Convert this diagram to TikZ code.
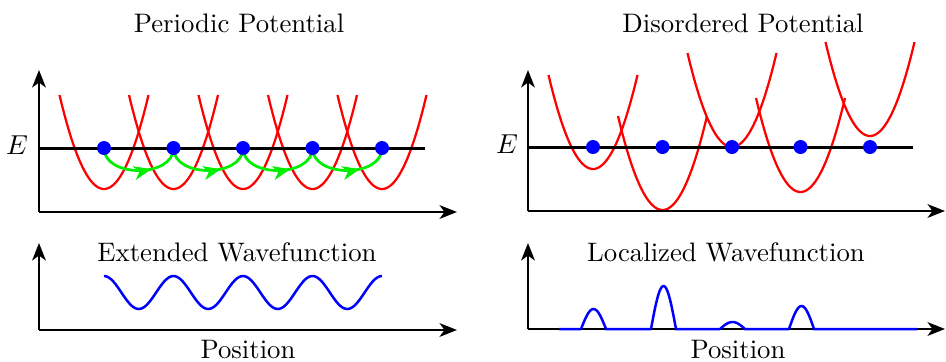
\documentclass[tikz,border=0pt]{standalone}
\usepackage{amsmath}
\usepackage{xcolor}
\usepackage{tikz}
\usetikzlibrary{arrows.meta,decorations.markings}
\definecolor{cPot}{HTML}{FF0000}
\definecolor{cHop}{HTML}{00EE00}
\definecolor{cWave}{HTML}{0000FF}
\tikzset{
  axis/.style  = {-{Stealth[length=7pt, width=5.5pt, inset=2pt]}, line width=0.8pt},
  eline/.style = {line width=1.2pt},
  pot/.style   = {draw=cPot, line width=0.9pt},
  wave/.style  = {draw=cWave, line width=1pt},
  hop/.style   = {draw=cHop, line width=1.1pt,
                  postaction={decorate},
                  decoration={markings, mark=at position 0.64 with
                    {\arrow[cHop]{Stealth[length=7pt, width=5.5pt, inset=2pt]}}}},
  dot/.style   = {circle, fill=cWave, inner sep=0pt, minimum size=5.6pt},
  ttl/.style   = {font=\fontsize{10.7}{13}\selectfont, inner sep=0pt},
}

\begin{document}
\begin{tikzpicture}[x=0.4pt, y=-0.4pt]
  \useasboundingbox (0,0) rectangle (946,361);

  % periodic potential
  \node[ttl] (ttlP) at (239,23) {Periodic Potential};
  \foreach \c in {104,173.5,243,312.5,382}
    \draw[pot] plot[domain=-44.5:44.5, samples=40] ({\c+\x}, {189-94*(\x/44.5)^2});
  \draw[eline] (39,148) -- (425,148);
  \node[ttl] (eP) at (17,145) {$E$};
  \foreach \c [count=\i] in {104,173.5,243,312.5}
    \draw[hop] (\c,148) .. controls (\c,178) and (\c+69.5,178) .. (\c+69.5,148);
  \foreach \c [count=\i] in {104,173.5,243,312.5,382}
    \node[dot] (p\i) at (\c,148) {};
  \draw[axis] (39,212) -- (39,70);
  \draw[axis] (39,212) -- (457,212);

  % extended wavefunction
  \node[ttl] (ttlX) at (237,252) {Extended Wavefunction};
  \draw[wave] plot[domain=0:278, samples=120] ({104+\x}, {292.5-16.5*cos(\x/69.5*360)});
  \draw[axis] (39,330) -- (39,243);
  \draw[axis] (39,330) -- (457,330);
  \node[ttl] (posL) at (248,350) {Position};

  % disordered potential
  \node[ttl] (ttlD) at (743,23) {Disordered Potential};
  \foreach \c/\m in {593/169, 662.5/210, 732/147, 800.5/192, 870/136}
    \draw[pot] plot[domain=-44.5:44.5, samples=40] ({\c+\x}, {\m-94*(\x/44.5)^2});
  \draw[eline] (528,147) -- (913,147);
  \node[ttl] (eD) at (507,144) {$E$};
  \foreach \c [count=\i] in {593,662.5,732,800.5,870}
    \node[dot] (d\i) at (\c,147) {};
  \draw[axis] (528,211) -- (528,70);
  \draw[axis] (528,211) -- (945,211);

  % localized wavefunction
  \node[ttl] (ttlL) at (726,252) {Localized Wavefunction};
  \draw[axis] (528,329) -- (528,243);
  \draw[axis] (528,329) -- (945,329);
  \draw[wave] (559,329) -- (581,329)
    plot[domain=0:25, samples=30] ({581+\x}, {329-20*sin(\x/25*180)}) -- (651,329)
    plot[domain=0:25, samples=30] ({651+\x}, {329-43*sin(\x/25*180)}) -- (720,329)
    plot[domain=0:25, samples=30] ({720+\x}, {329-7*sin(\x/25*180)}) -- (789,329)
    plot[domain=0:25, samples=30] ({789+\x}, {329-23*sin(\x/25*180)}) -- (917,329);
  \node[ttl] (posR) at (738,350) {Position};
\end{tikzpicture}
\end{document}
